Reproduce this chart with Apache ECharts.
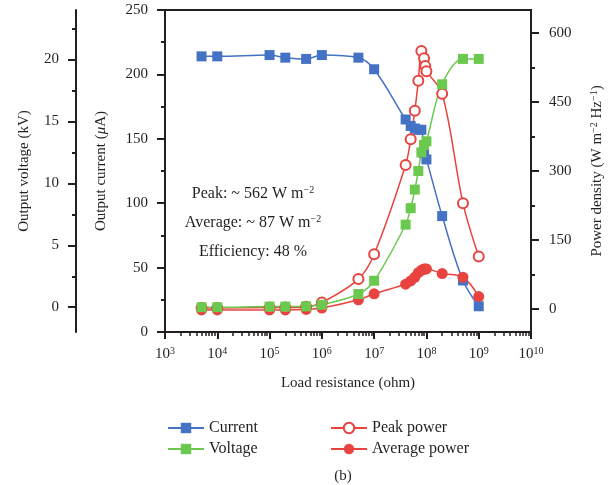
<!DOCTYPE html>
<html>
<head>
<meta charset="utf-8">
<script src="https://cdn.jsdelivr.net/npm/echarts@6/dist/echarts.min.js"></script>
<style>
  html, body { margin: 0; padding: 0; background: #fff; }
  #chart { width: 614px; height: 485px; }
</style>
</head>
<body>
<div id="chart"></div>
<script>
// load resistance (ohm) for current / voltage
const rCV = [5e3, 1e4, 1e5, 2e5, 5e5, 1e6, 5e6, 1e7, 4e7, 5e7, 6e7, 7e7, 8e7, 9e7, 1e8, 2e8, 5e8, 1e9]
const currentUA = [214, 214, 215, 213, 212, 215, 213, 204, 165, 160, 158, 157, 157, 139, 134, 90, 40, 20]
const voltageKV = [0, 0, 0.05, 0.05, 0.07, 0.2, 1.07, 2.14, 6.67, 8.0, 9.5, 11.0, 12.5, 13.1, 13.4, 18.0, 20.05, 20.05]
// load resistance (ohm) for power density
const rPower = [5e3, 1e4, 1e5, 2e5, 5e5, 1e6, 5e6, 1e7, 4e7, 5e7, 6e7, 7e7, 8e7, 9e7, 9.5e7, 1e8, 2e8, 5e8, 1e9]
const peakPower = [2, 2, 3, 3, 5, 14, 65, 119, 313, 369, 431, 496, 561, 545, 528, 517, 468, 230, 114]
const avgPower = [-2, -2, -2, -2, -1, 2, 20, 33, 54, 61, 69, 79, 84, 87, 87, 87, 77, 69, 27]

// tick labels
const xExponents = [3, 4, 5, 6, 7, 8, 9, 10]
const voltageTicks = [0, 5, 10, 15, 20]
const voltageMinor = [2.5, 7.5, 12.5, 17.5, 22.5]
const powerTicks = [0, 150, 300, 450, 600]
const powerMinor = [75, 225, 375, 525]

const ink = '#231f20'
const font = "'Liberation Serif', 'Times New Roman', serif"
const blue = '#4472c4'
const green = '#6cc94f'
const red = '#e8433f'

// log-spaced minor ticks, placed on an exponent-space overlay axis
const xMinor = []
xExponents.slice(0, -1).forEach(e => {
  for (let k = 2; k <= 9; k++) xMinor.push(e + Math.log10(k))
})

const pair = (xs, ys) => xs.map((x, i) => [x, ys[i]])
const sup = { fontSize: 10, verticalAlign: 'top', padding: [0, 0, 7, 0], fontFamily: font, color: ink }

const chart = echarts.init(document.getElementById('chart'))
const option = {
  animation: false,
  grid: {
    left: 165, right: 83, top: 10, bottom: 153,
    show: true, borderColor: ink, borderWidth: 2, backgroundColor: 'transparent'
  },
  legend: [
    {
      data: ['Current', 'Voltage'],
      orient: 'vertical', left: 167, top: 420, padding: 0,
      itemWidth: 36, itemHeight: 13, itemGap: 5,
      textStyle: { fontFamily: font, fontSize: 16, color: ink }
    },
    {
      data: ['Peak power', 'Average power'],
      orient: 'vertical', left: 330, top: 420, padding: 0,
      itemWidth: 36, itemHeight: 13, itemGap: 5,
      textStyle: { fontFamily: font, fontSize: 16, color: ink }
    }
  ],
  xAxis: [
    {
      type: 'log', logBase: 10, min: 1e3, max: 1e10, position: 'bottom',
      axisLine: { onZero: false, lineStyle: { color: ink, width: 2 } },
      axisTick: { show: false }, axisLabel: { show: false }, splitLine: { show: false }
    },
    {
      type: 'value', min: 3, max: 10, interval: 1, position: 'bottom',
      axisLine: { show: false, onZero: false },
      axisTick: { length: 7, lineStyle: { color: ink, width: 2 } },
      axisLabel: {
        margin: 14, fontFamily: font, fontSize: 15, color: ink,
        formatter: v => '10{sup|' + v + '}',
        rich: { sup: sup }
      },
      splitLine: { show: false },
      name: 'Load resistance (ohm)', nameLocation: 'middle', nameGap: 44,
      nameTextStyle: { fontFamily: font, fontSize: 15, color: ink }
    },
    {
      type: 'value', min: 3, max: 10, position: 'bottom',
      axisLine: { show: false, onZero: false },
      axisTick: { customValues: xMinor, length: 4, lineStyle: { color: ink, width: 1.5 } },
      axisLabel: { show: false }, splitLine: { show: false }
    }
  ],
  yAxis: [
    {
      type: 'value', min: 0, max: 250, interval: 50, position: 'left',
      axisLine: { show: true, onZero: false, lineStyle: { color: ink, width: 2 } },
      axisTick: { show: true, length: 8, lineStyle: { color: ink, width: 2 } },
      minorTick: { show: true, splitNumber: 2, length: 4, lineStyle: { color: ink, width: 2 } },
      axisLabel: { margin: 17, fontFamily: font, fontSize: 15, color: ink },
      splitLine: { show: false },
      name: 'Output current ({it|μ}A)', nameLocation: 'middle', nameGap: 56, nameRotate: 90,
      nameTextStyle: { fontFamily: font, fontSize: 15, color: ink, rich: { it: { fontStyle: 'italic', fontFamily: font, fontSize: 15, color: ink } } }
    },
    {
      type: 'value', min: -2, max: 24, position: 'left', offset: 89,
      axisLine: { show: true, onZero: false, lineStyle: { color: ink, width: 2 } },
      axisTick: { show: true, customValues: voltageTicks, length: 8, lineStyle: { color: ink, width: 2 } },
      axisLabel: { customValues: voltageTicks, margin: 17, fontFamily: font, fontSize: 15, color: ink },
      splitLine: { show: false },
      name: 'Output voltage (kV)', nameLocation: 'middle', nameGap: 44, nameRotate: 90,
      nameTextStyle: { fontFamily: font, fontSize: 15, color: ink }
    },
    {
      type: 'value', min: -2, max: 24, position: 'left', offset: 89,
      axisLine: { show: false, onZero: false },
      axisTick: { show: true, customValues: voltageMinor, length: 4, lineStyle: { color: ink, width: 2 } },
      axisLabel: { show: false }, splitLine: { show: false }
    },
    {
      type: 'value', min: -50, max: 650, position: 'right',
      axisLine: { show: true, onZero: false, lineStyle: { color: ink, width: 2 } },
      axisTick: { show: true, customValues: powerTicks, length: 8, lineStyle: { color: ink, width: 2 } },
      axisLabel: { customValues: powerTicks, margin: 18, fontFamily: font, fontSize: 15, color: ink },
      splitLine: { show: false },
      name: 'Power density (W m{sup|−2} Hz{sup|−1})', nameLocation: 'middle', nameGap: 58, nameRotate: 90,
      nameTextStyle: { fontFamily: font, fontSize: 15, color: ink, rich: { sup: sup } }
    },
    {
      type: 'value', min: -50, max: 650, position: 'right',
      axisLine: { show: false, onZero: false },
      axisTick: { show: true, customValues: powerMinor, length: 4, lineStyle: { color: ink, width: 2 } },
      axisLabel: { show: false }, splitLine: { show: false }
    }
  ],
  series: [
    {
      name: 'Current', type: 'line', xAxisIndex: 0, yAxisIndex: 0,
      data: pair(rCV, currentUA), smooth: 0.35,
      symbol: 'rect', symbolSize: 10,
      itemStyle: { color: blue }, lineStyle: { color: blue, width: 1.5 }
    },
    {
      name: 'Average power', type: 'line', xAxisIndex: 0, yAxisIndex: 3,
      data: pair(rPower, avgPower), smooth: 0.35,
      symbol: 'circle', symbolSize: 11,
      itemStyle: { color: red }, lineStyle: { color: red, width: 1.5 }
    },
    {
      name: 'Peak power', type: 'line', xAxisIndex: 0, yAxisIndex: 3,
      data: pair(rPower, peakPower), smooth: 0.35,
      symbol: 'emptyCircle', symbolSize: 10,
      itemStyle: { color: red, borderWidth: 1.4 }, lineStyle: { color: red, width: 1.5 }
    },
    {
      name: 'Voltage', type: 'line', xAxisIndex: 0, yAxisIndex: 1,
      data: pair(rCV, voltageKV), smooth: 0.35,
      symbol: 'rect', symbolSize: 10,
      itemStyle: { color: green }, lineStyle: { color: green, width: 1.5 }
    }
  ],
  graphic: [
    {
      type: 'text', x: 253, y: 194,
      style: { text: 'Peak: ~ 562 W m{sup|−2}', rich: { sup: sup }, fontFamily: font, fontSize: 16, fill: ink, align: 'center', verticalAlign: 'middle' }
    },
    {
      type: 'text', x: 253, y: 223,
      style: { text: 'Average: ~ 87 W m{sup|−2}', rich: { sup: sup }, fontFamily: font, fontSize: 16, fill: ink, align: 'center', verticalAlign: 'middle' }
    },
    {
      type: 'text', x: 253, y: 252,
      style: { text: 'Efficiency: 48 %', fontFamily: font, fontSize: 16, fill: ink, align: 'center', verticalAlign: 'middle' }
    },
    {
      type: 'text', x: 343, y: 476,
      style: { text: '(b)', fontFamily: font, fontSize: 15, fill: ink, align: 'center', verticalAlign: 'middle' }
    }
  ]
}
chart.setOption(option)
</script>
</body>
</html>
